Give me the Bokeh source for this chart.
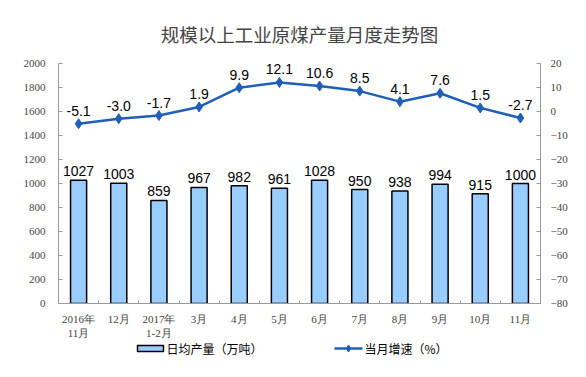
from bokeh.plotting import figure
from bokeh.layouts import column
from bokeh.models import Range1d, LinearAxis, FixedTicker, ColumnDataSource
from bokeh.core.properties import value
from bokeh.embed import file_html
from bokeh.resources import INLINE

categories = ["2016年\n11月", "12月", "2017年\n1-2月", "3月", "4月", "5月", "6月", "7月", "8月", "9月", "10月", "11月"]
output = [1027, 1003, 859, 967, 982, 961, 1028, 950, 938, 994, 915, 1000]
growth = [-5.1, -3.0, -1.7, 1.9, 9.9, 12.1, 10.6, 8.5, 4.1, 7.6, 1.5, -2.7]
left_ticks = [0, 200, 400, 600, 800, 1000, 1200, 1400, 1600, 1800, 2000]
right_ticks = [-80, -70, -60, -50, -40, -30, -20, -10, 0, 10, 20]
legend_labels = ["日均产量（万吨）", "当月增速（%）"]

BAR_FILL = "#99CCFF"
LINE_COL = "#1F5FB8"
AXIS_COL = "#999999"

xs = list(range(len(categories)))
src = ColumnDataSource(dict(
    x=xs, v=output, g=growth,
    vl=[str(v) for v in output],
    gl=[f"{g:.1f}" for g in growth],
))

# ranges padded above the top tick so that labels near the top are not clipped
p = figure(width=586, height=341, output_backend="svg", toolbar_location=None,
           x_range=Range1d(-0.5, len(categories) - 0.5), y_range=Range1d(0, 2100),
           min_border_left=58, min_border_right=46, min_border_top=51, min_border_bottom=36,
           title="规模以上工业原煤产量月度走势图")
p.title.align = "center"
p.title.text_font = "Noto Sans CJK SC"
p.title.text_font_size = "18.5px"
p.title.text_font_style = "normal"
p.title.standoff = 10
p.title.offset = -8

p.extra_y_ranges = {"pct": Range1d(-80, 25)}
p.grid.visible = False
p.outline_line_color = None

bars = p.vbar(x="x", top="v", width=0.4, source=src, fill_color=BAR_FILL,
              line_color="black", line_width=1.5)
p.line(x="x", y="g", source=src, y_range_name="pct", line_color=LINE_COL, line_width=2.5)
p.scatter(x="x", y="g", source=src, y_range_name="pct", marker="diamond", size=10,
          fill_color=LINE_COL, line_color=LINE_COL)

p.text(x="x", y="v", text="vl", source=src, text_align="center", text_baseline="alphabetic",
       y_offset=-9, text_font=value("Liberation Sans"), text_font_size="14px", text_color="black")
p.text(x="x", y="g", text="gl", source=src, y_range_name="pct", text_align="center",
       text_baseline="alphabetic", y_offset=-13, text_font=value("Liberation Sans"),
       text_font_size="14px", text_color="black")

xa = p.xaxis[0]
xa.ticker = FixedTicker(ticks=xs, minor_ticks=[i - 0.5 for i in range(len(categories) + 1)])
xa.major_label_overrides = {i: c for i, c in enumerate(categories)}
xa.major_tick_line_color = None
xa.minor_tick_in = 3
xa.minor_tick_out = 0
xa.minor_tick_line_color = AXIS_COL
xa.axis_line_color = AXIS_COL
xa.major_label_text_font = "Liberation Serif"
xa.major_label_text_font_size = "11px"
xa.major_label_standoff = 3

ya = p.yaxis[0]
ya.ticker = FixedTicker(ticks=left_ticks)
ya.bounds = (0, 2000)
ya.minor_tick_line_color = None
ya.major_tick_in = 4
ya.major_tick_out = 0
ya.major_tick_line_color = AXIS_COL
ya.axis_line_color = AXIS_COL
ya.major_label_text_font = "Liberation Serif"
ya.major_label_text_font_size = "11px"
ya.major_label_standoff = 13

ra = LinearAxis(y_range_name="pct", ticker=FixedTicker(ticks=right_ticks), bounds=(-80, 20))
ra.minor_tick_line_color = None
ra.major_tick_in = 4
ra.major_tick_out = 0
ra.major_tick_line_color = AXIS_COL
ra.axis_line_color = AXIS_COL
ra.major_label_text_font = "Liberation Serif"
ra.major_label_text_font_size = "11px"
ra.major_label_standoff = 10
p.add_layout(ra, "right")

# legend strip (pixel coordinates; frame aligned with main plot frame)
lg = figure(width=586, height=36, output_backend="svg", toolbar_location=None,
            x_range=Range1d(58, 540), y_range=Range1d(0, 36),
            min_border_left=58, min_border_right=46, min_border_top=0, min_border_bottom=0,
            x_axis_location=None, y_axis_location=None)
lg.grid.visible = False
lg.outline_line_color = None
ly = 29
lg.rect(x=[150], y=[ly], width=26, height=6, fill_color=BAR_FILL, line_color="black", line_width=1.5)
lg.line(x=[334, 362], y=[ly, ly], line_color=LINE_COL, line_width=2.5)
lg.scatter(x=[348], y=[ly], marker="diamond", size=7, fill_color=LINE_COL, line_color=LINE_COL)
lg.text(x=[166, 364], y=[ly, ly], text=legend_labels, text_baseline="middle", text_align="left",
        text_font=value("Noto Sans CJK SC"), text_font_size="12px", text_color="black")

layout = column(p, lg, spacing=0)
open("out.html", "w").write(file_html(layout, INLINE))
